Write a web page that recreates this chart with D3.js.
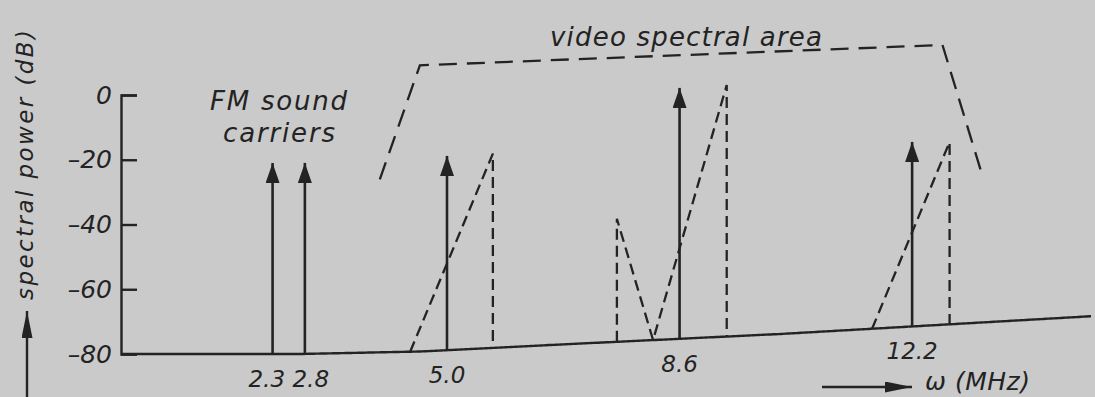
<!DOCTYPE html>
<html>
<head>
<meta charset="utf-8">
<script src="https://cdn.jsdelivr.net/npm/d3@7"></script>
<style>
  body { margin: 0; background: #cacaca; }
  svg { display: block; }
  text { font-family: "DejaVu Sans", sans-serif; font-style: oblique; fill: #232323; }
</style>
</head>
<body>
<svg id="chart"></svg>
<script>

// ----------------------------------------- Data -----------------------------------------

// carriers (solid arrows), MHz and dB
var carrierFreq = [2.3, 2.8, 5.0, 8.6, 12.2];
var carrierLevel = [-21, -21, -20, -2.5, -23];
var freqLabels = ['2.3', '2.8', '5.0', '8.6', '12.2'];
var levelTicks = [0, -20, -40, -60, -80];

// vestigial sidebands (dashed)
var sideband50Freq = [4.43, 5.71, 5.71];
var sideband50Level = [-80, -20, -80];
var sideband86Freq = [7.63, 7.63, 8.19, 9.33, 9.33];
var sideband86Level = [-80, -42, -80, -2.3, -80];
var sideband122Freq = [11.58, 12.78, 12.78];
var sideband122Level = [-80, -23.7, -80];

// video spectral area envelope (dashed)
var videoFreq = [3.96, 4.58, 12.67, 13.29];
var videoLevel = [-26.6, 8.4, 6.4, -34.8];

// ----------------------------------------- Setup -----------------------------------------

var width = 1095;
var height = 397;
var ink = '#232323';

var svg = d3.select('#chart')
            .attr('width', width)
            .attr('height', height);

var xScale = d3.scaleLinear()
               .domain([0, 15])
               .range([124, 1093]);

var yScale = d3.scaleLinear()
               .domain([-80, 0])
               .range([354, 95]);

// the printed page is not flat: baseline rises towards the right
var tilt = d3.scaleLinear()
             .domain([121, 300, 420, 550, 780, 1095])
             .range([0, 0, -2.5, -9, -20, -38])
             .clamp(true);

function px(f) { return xScale(f); }
function py(f, db) { return yScale(db) + tilt(xScale(f)); }

// arrow heads
var defs = svg.append('defs');

defs.append('marker')
    .attr('id', 'head')
    .attr('markerUnits', 'userSpaceOnUse')
    .attr('viewBox', '0 0 20 14')
    .attr('markerWidth', 20)
    .attr('markerHeight', 14)
    .attr('refX', 20)
    .attr('refY', 7)
    .attr('orient', 'auto')
  .append('path')
    .attr('d', 'M0,0 L20,7 L0,14 Z')
    .attr('fill', ink);

defs.append('marker')
    .attr('id', 'headLong')
    .attr('markerUnits', 'userSpaceOnUse')
    .attr('viewBox', '0 0 27 11')
    .attr('markerWidth', 27)
    .attr('markerHeight', 11)
    .attr('refX', 27)
    .attr('refY', 5.5)
    .attr('orient', 'auto')
  .append('path')
    .attr('d', 'M0,0 L27,5.5 L0,11 Z')
    .attr('fill', ink);

// ----------------------------------------- Axes -----------------------------------------

var yAxis = svg.append('g')
    .attr('transform', 'translate(121, 0)')
    .call(d3.axisLeft(yScale)
            .tickValues(levelTicks)
            .tickSize(-16)
            .tickPadding(9)
            .tickFormat(d => d < 0 ? '\u2013' + Math.abs(d) : d));

yAxis.selectAll('path, line')
    .attr('stroke', ink)
    .attr('stroke-width', 2.4);

yAxis.selectAll('text')
    .attr('font-family', null)
    .attr('font-size', 25)
    .attr('fill', ink);

// baseline at -80 dB
var baseline = d3.range(121, width + 1, 5);
svg.append('path')
    .attr('d', d3.line().curve(d3.curveBasis)(baseline.map(x => [x, yScale(-80) + tilt(x)])))
    .attr('fill', 'none')
    .attr('stroke', ink)
    .attr('stroke-width', 2.4);

// frequency labels under the carriers, nudged apart where they would collide
var labelX = carrierFreq.map(d => px(d));
var minGap = 44;
for (var i = 1; i < labelX.length; i++) {
  var gap = labelX[i] - labelX[i - 1];
  if (gap < minGap) {
    labelX[i - 1] -= (minGap - gap) / 2;
    labelX[i] += (minGap - gap) / 2;
  }
}

svg.selectAll('.freq-label')
    .data(carrierFreq)
  .enter()
  .append('text')
    .classed('freq-label', true)
    .attr('x', (d, i) => labelX[i])
    .attr('y', d => py(d, -80) + 33)
    .attr('text-anchor', 'middle')
    .attr('font-size', 23)
    .text((d, i) => freqLabels[i]);

// axis titles
svg.append('text')
    .attr('transform', 'translate(33, 165) rotate(-90)')
    .attr('text-anchor', 'middle')
    .attr('font-size', 23)
    .attr('textLength', 270)
    .attr('lengthAdjust', 'spacing')
    .text('spectral power (dB)');

svg.append('line')
    .attr('x1', 27).attr('y1', height)
    .attr('x2', 27).attr('y2', 311)
    .attr('stroke', ink)
    .attr('stroke-width', 2.4)
    .attr('marker-end', 'url(#headLong)');

svg.append('line')
    .attr('x1', 822).attr('y1', 387)
    .attr('x2', 912).attr('y2', 387)
    .attr('stroke', ink)
    .attr('stroke-width', 2.4)
    .attr('marker-end', 'url(#headLong)');

svg.append('text')
    .attr('x', 925)
    .attr('y', 390)
    .attr('font-size', 25)
    .attr('textLength', 105)
    .attr('lengthAdjust', 'spacing')
    .text('\u03c9 (MHz)');

// ----------------------------------------- Marks -----------------------------------------

var line = d3.line()
    .x(d => px(d[0]))
    .y(d => py(d[0], d[1]));

function zipPts(fs, ls) {
  return fs.map((f, i) => [f, ls[i]]);
}

// video spectral area
svg.append('path')
    .attr('d', line(zipPts(videoFreq, videoLevel)))
    .attr('fill', 'none')
    .attr('stroke', ink)
    .attr('stroke-width', 2.3)
    .attr('stroke-dasharray', '18,10');

// sidebands
[[sideband50Freq, sideband50Level],
 [sideband86Freq, sideband86Level],
 [sideband122Freq, sideband122Level]].forEach(function(sb) {
  svg.append('path')
      .attr('d', line(zipPts(sb[0], sb[1])))
      .attr('fill', 'none')
      .attr('stroke', ink)
      .attr('stroke-width', 2.3)
      .attr('stroke-dasharray', '11,6');
});

// carriers
svg.selectAll('.carrier')
    .data(carrierFreq)
  .enter()
  .append('line')
    .classed('carrier', true)
    .attr('x1', d => px(d))
    .attr('x2', d => px(d))
    .attr('y1', d => py(d, -80))
    .attr('y2', (d, i) => py(d, carrierLevel[i]))
    .attr('stroke', ink)
    .attr('stroke-width', 2.6)
    .attr('marker-end', 'url(#head)');

// annotations
svg.append('text')
    .attr('x', 550)
    .attr('y', 46)
    .attr('font-size', 26)
    .attr('textLength', 272)
    .attr('lengthAdjust', 'spacing')
    .text('video spectral area');

svg.append('text')
    .attr('x', 210)
    .attr('y', 110)
    .attr('font-size', 26)
    .attr('textLength', 137)
    .attr('lengthAdjust', 'spacing')
    .text('FM sound');

svg.append('text')
    .attr('x', 223)
    .attr('y', 142)
    .attr('font-size', 26)
    .attr('textLength', 112)
    .attr('lengthAdjust', 'spacing')
    .text('carriers');

</script>
</body>
</html>
